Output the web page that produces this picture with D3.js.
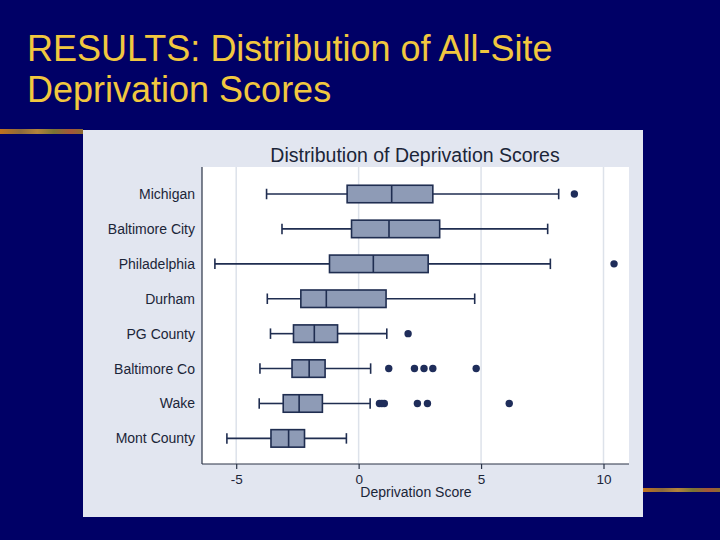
<!DOCTYPE html>
<html>
<head>
<meta charset="utf-8">
<script src="https://cdn.jsdelivr.net/npm/d3@7"></script>
<style>
  html, body { margin: 0; padding: 0; background: #000066; }
  text { font-family: "Liberation Sans", Arial, sans-serif; }
</style>
</head>
<body>
<div id="chart"></div>
<script>
// values
var sites   = ["Michigan", "Baltimore City", "Philadelphia", "Durham", "PG County", "Baltimore Co", "Wake", "Mont County"];
var whiskLo = [-3.76, -3.13, -5.87, -3.73, -3.60, -4.03, -4.06, -5.38];
var q1      = [-0.47, -0.29, -1.19, -2.36, -2.66, -2.72, -3.08, -3.58];
var median  = [ 1.35,  1.24,  0.60, -1.32, -1.81, -2.02, -2.43, -2.86];
var q3      = [ 3.03,  3.31,  2.84,  1.12, -0.86, -1.37, -1.48, -2.21];
var whiskHi = [ 8.17,  7.72,  7.83,  4.74,  1.15,  0.49,  0.47, -0.50];
var outliers = [
  [8.81],
  [],
  [10.43],
  [],
  [2.02],
  [1.23, 2.28, 2.67, 3.03, 4.80],
  [0.85, 0.95, 1.05, 2.40, 2.81, 6.15],
  []
];
var xTicks = [-5, 0, 5, 10];

var svg = d3.select("#chart").append("svg")
  .attr("width", 720).attr("height", 540);

svg.append("rect").attr("width", 720).attr("height", 540).attr("fill", "#000066");

// slide title
var title = svg.append("text").attr("x", 27).attr("fill", "#f1c73f").style("font-size", "36px");
title.append("tspan").attr("x", 27).attr("y", 61).text("RESULTS: Distribution of All-Site");
title.append("tspan").attr("x", 27).attr("y", 102).text("Deprivation Scores");

// decorative rules
var grad = svg.append("defs").append("linearGradient").attr("id", "rule");
[["0%", "#c0721e"], ["25%", "#8d6a3c"], ["45%", "#b2833c"], ["65%", "#7a7434"], ["85%", "#a4563a"], ["100%", "#8a6b30"]]
  .forEach(function (s) { grad.append("stop").attr("offset", s[0]).attr("stop-color", s[1]); });
svg.append("rect").attr("x", 0).attr("y", 129).attr("width", 83).attr("height", 5).attr("fill", "url(#rule)");
svg.append("rect").attr("x", 643).attr("y", 488).attr("width", 77).attr("height", 4).attr("fill", "url(#rule)");

// chart panel
svg.append("rect").attr("x", 83).attr("y", 130).attr("width", 560).attr("height", 387).attr("fill", "#e2e6f0");

svg.append("text").attr("x", 415).attr("y", 162).attr("text-anchor", "middle")
  .attr("fill", "#1b2538").style("font-size", "19.5px")
  .text("Distribution of Deprivation Scores");

var plotL = 202, plotR = 629, plotT = 167, plotB = 464;
svg.append("rect").attr("x", plotL).attr("y", plotT).attr("width", plotR - plotL).attr("height", plotB - plotT).attr("fill", "#ffffff");

var x = d3.scaleLinear().domain([-5, 10]).range([236.2, 603.5]);
var y = d3.scalePoint().domain(sites).range([194, 438.4]);

// grid
svg.selectAll(".grid").data(xTicks).enter().append("line")
  .attr("x1", function (d) { return x(d); }).attr("x2", function (d) { return x(d); })
  .attr("y1", plotT).attr("y2", plotB)
  .attr("stroke", "#dde2ea").attr("stroke-width", 1.5);

// x axis
var xAxis = svg.append("g").attr("transform", "translate(0," + plotB + ")")
  .call(d3.axisBottom(x).tickValues(xTicks).tickSize(5).tickPadding(5).tickFormat(function (d) { return String(d); }));
xAxis.select(".domain").attr("d", "M" + plotL + ",0H" + plotR).attr("stroke", "#2a3346").attr("stroke-width", 1.2);
xAxis.selectAll(".tick line").attr("stroke", "#2a3346").attr("stroke-width", 1.2);
xAxis.selectAll(".tick text").attr("fill", "#1b2538").style("font-size", "13.5px")
  .style("font-family", "'Liberation Sans', Arial, sans-serif");

svg.append("text").attr("x", 416).attr("y", 497).attr("text-anchor", "middle")
  .attr("fill", "#1b2538").style("font-size", "14px").text("Deprivation Score");

// y axis
svg.append("line").attr("x1", plotL).attr("x2", plotL).attr("y1", plotT).attr("y2", plotB)
  .attr("stroke", "#2a3346").attr("stroke-width", 1.2);
svg.selectAll(".ylab").data(sites).enter().append("text")
  .attr("x", 195).attr("y", function (d) { return y(d) + 5; })
  .attr("text-anchor", "end").attr("fill", "#1b2538").style("font-size", "14px")
  .text(function (d) { return d; });

// boxes
var boxH = 17.5, capH = 10.5, ink = "#1f2d50";
var rows = svg.selectAll(".row").data(sites).enter().append("g")
  .attr("transform", function (d) { return "translate(0," + y(d) + ")"; });

rows.append("line")
  .attr("x1", function (d, i) { return x(whiskLo[i]); }).attr("x2", function (d, i) { return x(q1[i]); })
  .attr("stroke", ink).attr("stroke-width", 1.6);
rows.append("line")
  .attr("x1", function (d, i) { return x(q3[i]); }).attr("x2", function (d, i) { return x(whiskHi[i]); })
  .attr("stroke", ink).attr("stroke-width", 1.6);
rows.append("line")
  .attr("x1", function (d, i) { return x(whiskLo[i]); }).attr("x2", function (d, i) { return x(whiskLo[i]); })
  .attr("y1", -capH / 2).attr("y2", capH / 2).attr("stroke", ink).attr("stroke-width", 1.6);
rows.append("line")
  .attr("x1", function (d, i) { return x(whiskHi[i]); }).attr("x2", function (d, i) { return x(whiskHi[i]); })
  .attr("y1", -capH / 2).attr("y2", capH / 2).attr("stroke", ink).attr("stroke-width", 1.6);
rows.append("rect")
  .attr("x", function (d, i) { return x(q1[i]); })
  .attr("width", function (d, i) { return x(q3[i]) - x(q1[i]); })
  .attr("y", -boxH / 2).attr("height", boxH)
  .attr("fill", "#8e9bb6").attr("stroke", ink).attr("stroke-width", 1.6);
rows.append("line")
  .attr("x1", function (d, i) { return x(median[i]); }).attr("x2", function (d, i) { return x(median[i]); })
  .attr("y1", -boxH / 2).attr("y2", boxH / 2).attr("stroke", ink).attr("stroke-width", 1.6);

rows.each(function (d, i) {
  d3.select(this).selectAll("circle").data(outliers[i]).enter().append("circle")
    .attr("cx", function (v) { return x(v); }).attr("cy", 0).attr("r", 3.7)
    .attr("fill", "#1f2d5a");
});
</script>
</body>
</html>
